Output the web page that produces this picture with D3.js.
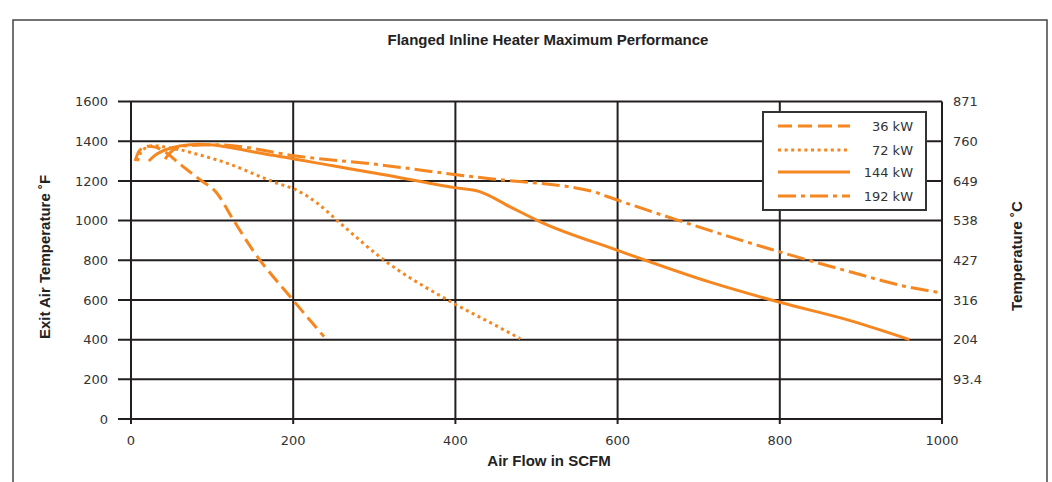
<!DOCTYPE html>
<html>
<head>
<meta charset="utf-8">
<script src="https://cdn.jsdelivr.net/npm/d3@7"></script>
<style>
  html, body { margin: 0; padding: 0; background: #fff; }
  svg { display: block; }
</style>
</head>
<body>
<svg id="chart" width="1052" height="482"></svg>
<script>
// ---------- data ----------
const chartTitle = "Flanged Inline Heater Maximum Performance";
const xTitle = "Air Flow in SCFM";
const yTitleLeft = "Exit Air Temperature ˚F";
const yTitleRight = "Temperature ˚C";

const xTicks = [0, 200, 400, 600, 800, 1000];
const yTicksF = [0, 200, 400, 600, 800, 1000, 1200, 1400, 1600];
const yTicksC = ["", "93.4", "204", "316", "427", "538", "649", "760", "871"];

const seriesNames = ["36 kW", "72 kW", "144 kW", "192 kW"];

// [air flow SCFM, exit temperature F]
const kw36 = [[5,1300],[10,1350],[20,1375],[30,1370],[44,1340],[58,1292],[85,1206],[105,1143],[126,1005],[152,840],[198,608],[238,415]];
const kw72 = [[8,1300],[14,1355],[28,1378],[45,1368],[60,1357],[87,1328],[112,1298],[175,1196],[208,1145],[229,1090],[257,990],[311,804],[393,594],[454,462],[480,405]];
const kw144 = [[22,1300],[30,1330],[40,1352],[60,1376],[85,1384],[167,1334],[249,1276],[307,1235],[399,1166],[430,1146],[468,1068],[504,995],[600,850],[716,687],[800,588],[890,492],[960,400]];
const kw192 = [[42,1310],[52,1355],[68,1377],[106,1382],[208,1323],[307,1281],[401,1231],[443,1211],[570,1146],[584,1126],[598,1106],[672,1005],[790,854],[890,738],[955,668],[1000,635]];

// ---------- layout ----------
const svg = d3.select("#chart");
const W = 1052, H = 482;
const x0 = 131, x1 = 942, yTop = 101.5, yBot = 419;
const orange = "#F6861F";
const gridColor = "#231F20";
const textColor = "#333";
const tickFont = "'DejaVu Sans', sans-serif";
const boldFont = "'Liberation Sans', Arial, sans-serif";
const boldSize = 15;

const x = d3.scaleLinear().domain([0, 1000]).range([x0, x1]);
const y = d3.scaleLinear().domain([0, 1600]).range([yBot, yTop]);

// outer frame (open at the bottom)
svg.append("path")
  .attr("d", `M13,${H+5} L13,20 L1047,20 L1047,${H+5}`)
  .attr("fill", "none").attr("stroke", "#444").attr("stroke-width", 1.5);

// title
svg.append("text")
  .attr("x", 548).attr("y", 45)
  .attr("text-anchor", "middle")
  .attr("font-family", boldFont).attr("font-weight", "bold")
  .attr("font-size", boldSize).attr("fill", "#222")
  .text(chartTitle);

// gridlines
const g = svg.append("g");
g.selectAll("line.hg").data(yTicksF).enter().append("line")
  .attr("x1", x0 - 13).attr("x2", x1)
  .attr("y1", d => y(d)).attr("y2", d => y(d))
  .attr("stroke", gridColor).attr("stroke-width", 2);
g.selectAll("line.vg").data(xTicks).enter().append("line")
  .attr("x1", d => x(d)).attr("x2", d => x(d))
  .attr("y1", yTop).attr("y2", yBot + 5)
  .attr("stroke", gridColor).attr("stroke-width", 2);

// left axis labels
svg.append("g").selectAll("text").data(yTicksF).enter().append("text")
  .attr("x", 108).attr("y", d => y(d))
  .attr("dy", "0.36em")
  .attr("text-anchor", "end")
  .attr("font-family", tickFont).attr("font-size", 13).attr("fill", textColor)
  .text(d => d);

// right axis labels
svg.append("g").selectAll("text").data(yTicksF).enter().append("text")
  .attr("x", 953).attr("y", d => y(d))
  .attr("dy", "0.36em")
  .attr("text-anchor", "start")
  .attr("font-family", tickFont).attr("font-size", 13).attr("fill", textColor)
  .text((d, i) => yTicksC[i]);

// bottom axis labels
svg.append("g").selectAll("text").data(xTicks).enter().append("text")
  .attr("x", d => x(d)).attr("y", 440)
  .attr("dy", "0.36em")
  .attr("text-anchor", "middle")
  .attr("font-family", tickFont).attr("font-size", 13).attr("fill", textColor)
  .text(d => d);

// axis titles
svg.append("text")
  .attr("transform", "translate(50,257) rotate(-90)")
  .attr("text-anchor", "middle")
  .attr("font-family", boldFont).attr("font-weight", "bold")
  .attr("font-size", boldSize).attr("fill", "#222")
  .text(yTitleLeft);
svg.append("text")
  .attr("transform", "translate(1022,256) rotate(-90)")
  .attr("text-anchor", "middle")
  .attr("font-family", boldFont).attr("font-weight", "bold")
  .attr("font-size", boldSize).attr("fill", "#222")
  .text(yTitleRight);
svg.append("text")
  .attr("x", 549).attr("y", 466)
  .attr("text-anchor", "middle")
  .attr("font-family", boldFont).attr("font-weight", "bold")
  .attr("font-size", boldSize).attr("fill", "#222")
  .text(xTitle);

// series
const dashes = ["14,6", "3,3.6", null, "18,5,4,5"];
const seriesData = [kw36, kw72, kw144, kw192];
const line = d3.line().x(d => x(d[0])).y(d => y(d[1])).curve(d3.curveMonotoneX);

svg.append("g").selectAll("path").data(seriesData).enter().append("path")
  .attr("d", line)
  .attr("fill", "none")
  .attr("stroke", orange)
  .attr("stroke-width", 3)
  .attr("stroke-dasharray", (d, i) => dashes[i]);

// legend
const lg = svg.append("g");
lg.append("rect")
  .attr("x", 763).attr("y", 112).attr("width", 163).attr("height", 98)
  .attr("fill", "#fff").attr("stroke", "#333").attr("stroke-width", 2);
const legY = [126, 150, 172, 196];
const le = lg.selectAll("g.item").data(seriesNames).enter().append("g");
le.append("line")
  .attr("x1", 778).attr("x2", 850)
  .attr("y1", (d, i) => legY[i]).attr("y2", (d, i) => legY[i])
  .attr("stroke", orange).attr("stroke-width", 3)
  .attr("stroke-dasharray", (d, i) => dashes[i]);
le.append("text")
  .attr("x", 913).attr("y", (d, i) => legY[i])
  .attr("dy", "0.36em")
  .attr("text-anchor", "end")
  .attr("font-family", tickFont).attr("font-size", 13).attr("fill", textColor)
  .text(d => d);
</script>
</body>
</html>
